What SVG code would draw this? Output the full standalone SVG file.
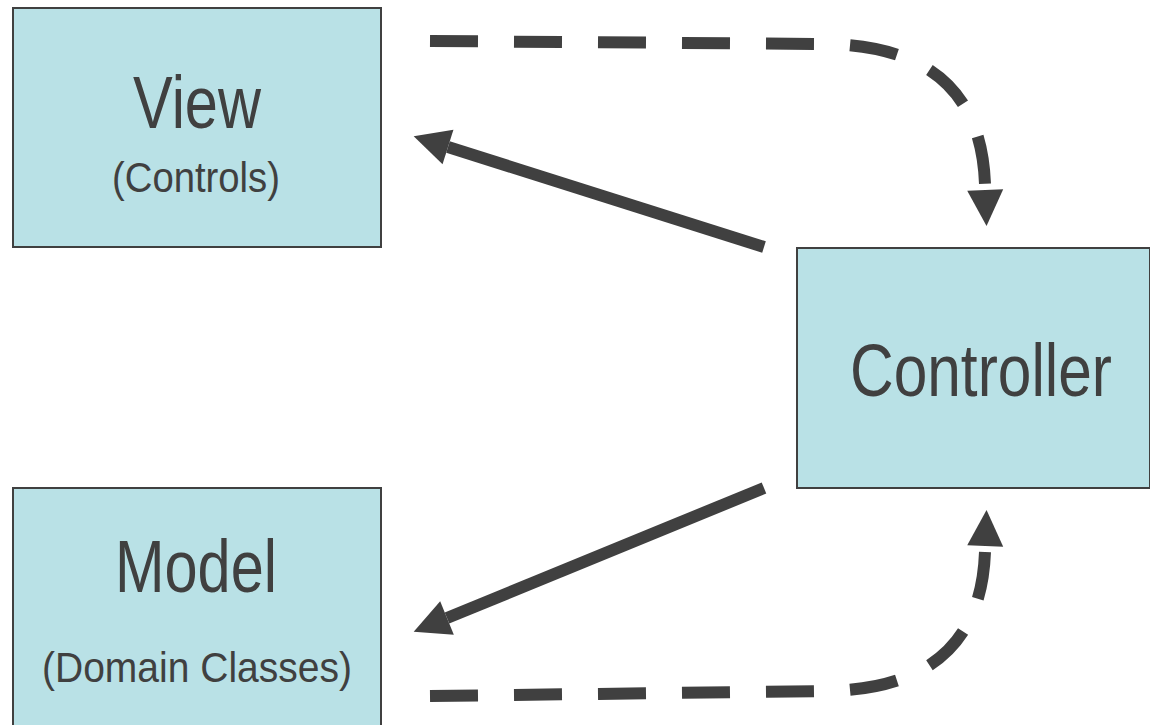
<svg xmlns="http://www.w3.org/2000/svg" width="1150" height="725" viewBox="0 0 1150 725">
  <style>
    .box { fill: #b9e1e6; stroke: #404040; stroke-width: 2; }
    .title { font-family: "Liberation Sans", Arial, sans-serif; fill: #404040; text-anchor: middle; }
    .flow { fill: none; stroke: #404040; stroke-width: 12; }
    .dashed { stroke-dasharray: 48 36; }
  </style>
  <defs>
    <!-- arrowhead sitting right at the end of the line -->
    <marker id="head" markerUnits="userSpaceOnUse" markerWidth="40" markerHeight="40" refX="0" refY="18" orient="auto" overflow="visible">
      <path d="M0,0 L36,18 L0,36 Z" fill="#404040"/>
    </marker>
    <!-- arrowhead with a small gap before it, for the dashed loops -->
    <marker id="head-gap" markerUnits="userSpaceOnUse" markerWidth="44" markerHeight="40" refX="0" refY="18" orient="auto" overflow="visible">
      <path d="M6,0 L42,18 L6,36 Z" fill="#404040"/>
    </marker>
  </defs>

  <g id="view">
    <rect class="box" x="13" y="8" width="368" height="239"/>
    <text class="title" x="197" y="128" font-size="75" textLength="128" lengthAdjust="spacingAndGlyphs">View</text>
    <text class="title" x="196" y="192" font-size="43" textLength="168" lengthAdjust="spacingAndGlyphs">(Controls)</text>
  </g>

  <g id="controller">
    <rect class="box" x="797" y="248" width="353" height="240"/>
    <text class="title" x="981" y="396" font-size="74" textLength="262" lengthAdjust="spacingAndGlyphs">Controller</text>
  </g>

  <g id="model">
    <rect class="box" x="13" y="488" width="368" height="250"/>
    <text class="title" x="196" y="592" font-size="75" textLength="162" lengthAdjust="spacingAndGlyphs">Model</text>
    <text class="title" x="197" y="682" font-size="42" textLength="310" lengthAdjust="spacingAndGlyphs">(Domain Classes)</text>
  </g>

  <g id="connectors">
    <!-- controller updates the view -->
    <path class="flow" d="M764,247 L448,147" marker-end="url(#head)"/>
    <!-- controller updates the model -->
    <path class="flow" d="M764,488 L447,618" marker-end="url(#head)"/>
    <!-- view events flow to the controller -->
    <path class="flow dashed" d="M430,41 L830,44 Q980,48 985,184" marker-end="url(#head-gap)"/>
    <!-- model notifications flow to the controller -->
    <path class="flow dashed" d="M430,696 L830,691 Q980,687 985,552" marker-end="url(#head-gap)"/>
  </g>
</svg>
